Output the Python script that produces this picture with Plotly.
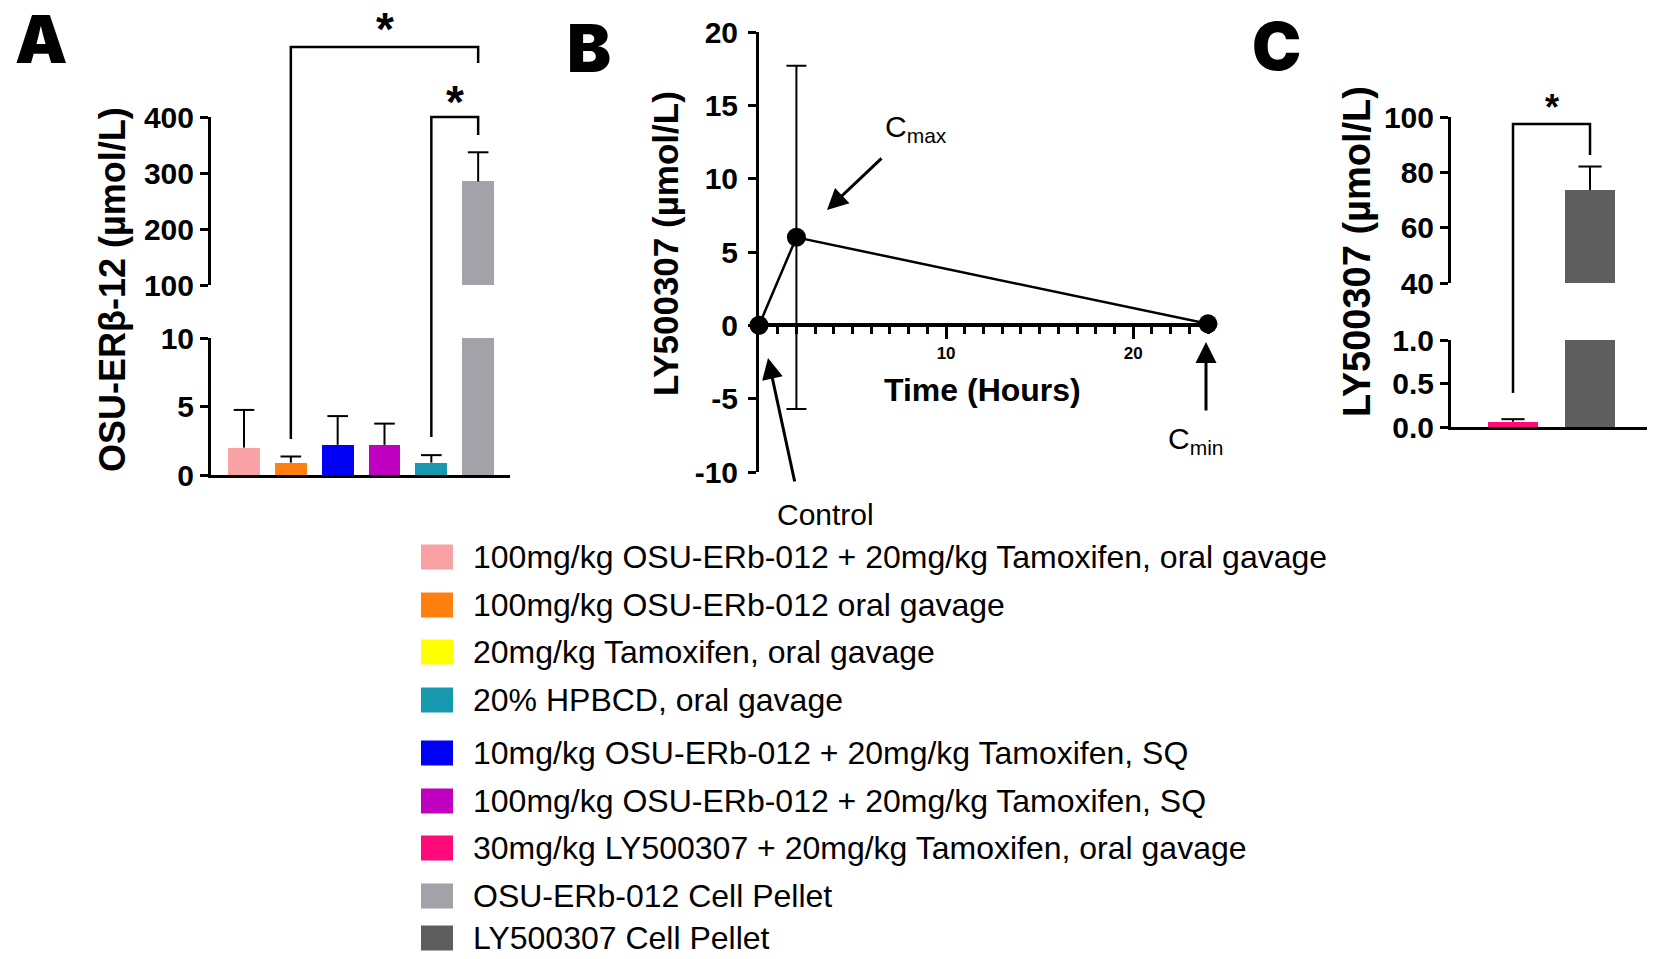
import plotly.graph_objects as go

W, H = 1654, 959

# ---------------- data ----------------
legend_labels = [
    "100mg/kg OSU-ERb-012 + 20mg/kg Tamoxifen, oral gavage",
    "100mg/kg OSU-ERb-012 oral gavage",
    "20mg/kg Tamoxifen, oral gavage",
    "20% HPBCD, oral gavage",
    "10mg/kg OSU-ERb-012 + 20mg/kg Tamoxifen, SQ",
    "100mg/kg OSU-ERb-012 + 20mg/kg Tamoxifen, SQ",
    "30mg/kg LY500307 + 20mg/kg Tamoxifen, oral gavage",
    "OSU-ERb-012 Cell Pellet",
    "LY500307 Cell Pellet",
]
legend_colors = ["#F9A2A5", "#FF7F0F", "#FFFF00", "#1699AD", "#0000F5",
                 "#BF00C0", "#FF0A7A", "#A2A2A8", "#5E5E5E"]

# Panel A: OSU-ERb-12 concentration (umol/L)
a_groups = [0, 1, 4, 5, 3, 7]          # indices into legend
a_mean = [2.0, 0.9, 2.2, 2.2, 0.9, 285]
a_err = [2.75, 0.45, 2.1, 1.55, 0.55, 52]
a_ticks_low = [0, 5, 10]
a_ticks_high = [100, 200, 300, 400]

# Panel B: LY500307 time course
b_time = [0, 2, 24]
b_mean = [0, 6.0, 0.1]
b_err = [0, 11.7, 0]
b_yticks = [-10, -5, 0, 5, 10, 15, 20]
b_xticks = [10, 20]

# Panel C: LY500307 concentration (umol/L)
c_groups = [6, 8]
c_mean = [0.06, 73.6]
c_err = [0.03, 8.5]
c_ticks_low = [0, 0.5, 1.0]
c_ticks_high = [40, 60, 80, 100]


def X(p):
    return p / W


def Y(p):
    return 1 - p / H


FONT = "Liberation Sans, Arial, sans-serif"
BOLD = dict(family=FONT, color="black", weight="bold")

fig = go.Figure()


def err_lines(means, errs, cap):
    xs, ys = [], []
    for i, (m, e) in enumerate(zip(means, errs)):
        xs += [i, i, None, i - cap, i + cap, None]
        ys += [m, m + e, None, m + e, m + e, None]
    return xs, ys


# ---- Panel A bars (broken axis: two y axes sharing x) ----
a_x = list(range(len(a_mean)))
a_cols = [legend_colors[g] for g in a_groups]
for ya in ["y", "y2"]:
    fig.add_trace(go.Bar(x=a_x, y=a_mean, width=0.68, marker=dict(color=a_cols, line=dict(width=0)),
                         xaxis="x", yaxis=ya, showlegend=False))
    ex, ey = err_lines(a_mean, a_err, 0.22)
    fig.add_trace(go.Scatter(x=ex, y=ey, mode="lines", line=dict(color="black", width=2),
                             xaxis="x", yaxis=ya, showlegend=False))

# ---- Panel B ----
fig.add_trace(go.Scatter(x=b_time, y=b_mean, mode="lines+markers",
                         line=dict(color="black", width=2.5),
                         marker=dict(color="black", size=19),
                         error_y=dict(type="data", array=b_err, color="black", thickness=2, width=10),
                         cliponaxis=False, xaxis="x3", yaxis="y3", showlegend=False))

# ---- Panel C ----
c_x = list(range(len(c_mean)))
c_cols = [legend_colors[g] for g in c_groups]
for ya in ["y4", "y5"]:
    fig.add_trace(go.Bar(x=c_x, y=c_mean, width=0.66, marker=dict(color=c_cols, line=dict(width=0)),
                         xaxis="x4", yaxis=ya, showlegend=False))
    ex, ey = err_lines(c_mean, c_err, 0.15)
    fig.add_trace(go.Scatter(x=ex, y=ey, mode="lines", line=dict(color="black", width=2),
                             xaxis="x4", yaxis=ya, showlegend=False))

axis_common = dict(showgrid=False, zeroline=False, showline=True, linecolor="black",
                   linewidth=3, ticks="outside", ticklen=8, tickwidth=3, tickcolor="black",
                   automargin=False)

fig.update_layout(
    template="none",
    width=W, height=H, autosize=False,
    margin=dict(l=0, r=0, t=0, b=0, pad=0),
    paper_bgcolor="white", plot_bgcolor="white",
    bargap=0,
    xaxis=dict(domain=[X(211), X(510)], range=[-0.705, 5.68], anchor="y",
               showgrid=False, zeroline=False, showline=True, linecolor="black", linewidth=3,
               ticks="", showticklabels=False, automargin=False),
    yaxis=dict(axis_common, domain=[Y(475), Y(338)], range=[0, 10], anchor="x",
               tickvals=a_ticks_low, tickfont=dict(BOLD, size=30)),
    yaxis2=dict(axis_common, domain=[Y(285), Y(117)], range=[100, 400], anchor="x",
                tickvals=a_ticks_high, tickfont=dict(BOLD, size=30)),
    xaxis3=dict(domain=[X(759), X(1208)], range=[0, 24], anchor="free", position=Y(325),
                showgrid=False, zeroline=False, showline=True, linecolor="black", linewidth=4,
                ticks="outside", tickvals=b_xticks, ticklen=12, tickwidth=3, tickcolor="black",
                tickfont=dict(BOLD, size=17), automargin=False,
                minor=dict(ticks="outside", tickmode="linear", tick0=0, dtick=1,
                           ticklen=7, tickwidth=3, tickcolor="black", showgrid=False)),
    yaxis3=dict(axis_common, domain=[Y(472), Y(32)], range=[-10, 20], anchor="x3",
                tickvals=b_yticks, ticktext=[str(v) for v in b_yticks],
                tickfont=dict(BOLD, size=30), ticklabelstandoff=4),
    xaxis4=dict(domain=[X(1451), X(1647)], range=[-0.805, 1.74], anchor="y4",
                showgrid=False, zeroline=False, showline=True, linecolor="black", linewidth=3,
                ticks="", showticklabels=False, automargin=False),
    yaxis4=dict(axis_common, domain=[Y(427), Y(340)], range=[0, 1], anchor="x4",
                tickvals=c_ticks_low, ticktext=[f"{v:.1f}" for v in c_ticks_low],
                tickfont=dict(BOLD, size=30)),
    yaxis5=dict(axis_common, domain=[Y(283), Y(117)], range=[40, 100], anchor="x4",
                tickvals=c_ticks_high, tickfont=dict(BOLD, size=30)),
)

shapes = []
ann = []


def note(text, cx, cy, font, xref="paper", xval=None, **kw):
    d = dict(text=text, xref=xref, yref="paper",
             x=X(cx) if xval is None else xval, y=Y(cy),
             xanchor=kw.pop("xanchor", "center"), yanchor="middle",
             showarrow=False, font=font)
    d.update(kw)
    ann.append(d)


# significance brackets
def bracket(xref, x1, x2, top, leg1, leg2):
    return dict(type="path", xref=xref, yref="paper",
                path=f"M {x1},{Y(leg1)} L {x1},{Y(top)} L {x2},{Y(top)} L {x2},{Y(leg2)}",
                line=dict(color="black", width=2.5))

shapes.append(bracket("x", 1, 5, 47, 439, 63))
shapes.append(bracket("x", 4, 5, 117, 437, 135))
shapes.append(bracket("x4", 0, 1, 124, 393, 155))
note("*", None, 29, dict(BOLD, size=46), xref="x", xval=3)
note("*", None, 102, dict(BOLD, size=46), xref="x", xval=4.5)
note("*", None, 108, dict(BOLD, size=36), xref="x4", xval=0.5)

# panel letters
for letter, cx, cy in [("A", 41, 39), ("B", 589, 48), ("C", 1276, 46)]:
    note(letter, cx, cy, dict(family="Inter, Liberation Sans, Arial", size=66, color="black", weight=900))

# axis titles
note("OSU-ERβ-12 (µmol/L)", 112, 290, dict(BOLD, size=36), textangle=-90)
note("LY500307 (µmol/L)", 665, 244, dict(BOLD, size=35), textangle=-90)
note("LY500307 (µmol/L)", 1357, 252, dict(BOLD, size=38), textangle=-90)
note("Time (Hours)", 982, 390, dict(BOLD, size=32))

# arrows and labels in panel B
REG = dict(family=FONT, color="black", size=30)
for (hx, hy, tx, ty) in [(827, 210, 883, 157), (768, 358, 795, 483), (1206, 342, 1206, 412)]:
    ann.append(dict(text="", x=X(hx), y=Y(hy), xref="paper", yref="paper", showarrow=True,
                    ax=tx - hx, ay=ty - hy, arrowhead=2, arrowsize=1.4, arrowwidth=3,
                    arrowcolor="black", standoff=0))
note("C<sub>max</sub>", 916, 128, REG)
note("Control", 825, 514, REG)
note("C<sub>min</sub>", 1196, 440, REG)

# legend (manual, for large swatches)
row_y = [557, 605, 652, 700, 753, 801, 848, 896, 938]
for lab, col, ry in zip(legend_labels, legend_colors, row_y):
    shapes.append(dict(type="rect", xref="paper", yref="paper", x0=X(421), x1=X(453),
                       y0=Y(ry + 12.5), y1=Y(ry - 12.5), fillcolor=col, line=dict(width=0)))
    note(lab, 471, ry, dict(family=FONT, size=32, color="black"), xanchor="left")

fig.update_layout(shapes=shapes, annotations=ann)
fig.write_html("out.html", config={"displayModeBar": False},
               post_script="document.body.style.margin='0px';document.body.style.overflow='hidden';")
